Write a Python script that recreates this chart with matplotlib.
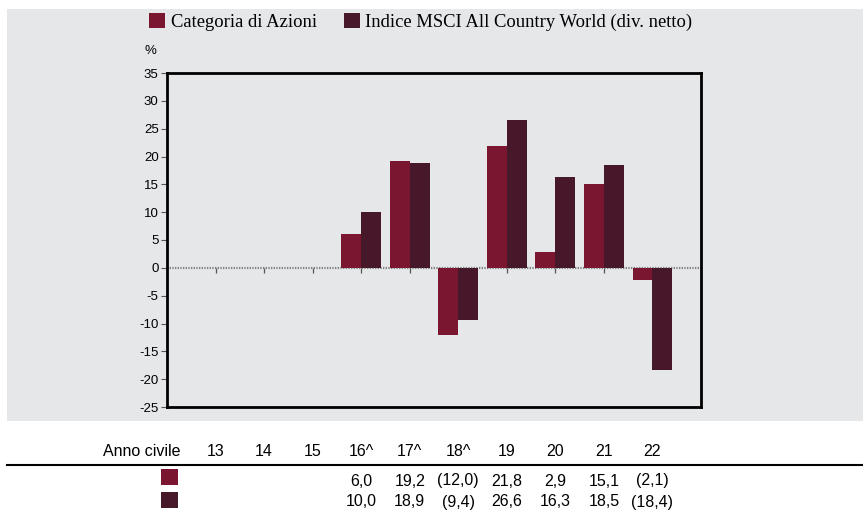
import numpy as np
import matplotlib.pyplot as plt
from matplotlib.patches import Patch, Rectangle
from matplotlib.transforms import blended_transform_factory

# dati
anni = ['13', '14', '15', '16^', '17^', '18^', '19', '20', '21', '22']
categoria = [np.nan, np.nan, np.nan, 6.0, 19.2, -12.0, 21.8, 2.9, 15.1, -2.1]
indice = [np.nan, np.nan, np.nan, 10.0, 18.9, -9.4, 26.6, 16.3, 18.5, -18.4]
serie_nomi = ['Categoria di Azioni', 'Indice MSCI All Country World (div. netto)']
y_ticks = list(range(-25, 40, 5))

COL_CAT = '#7b1631'
COL_IDX = '#461829'
SFONDO = '#e6e7e9'

plt.rcParams['axes.unicode_minus'] = False

W, H = 863, 513
fig = plt.figure(figsize=(W / 100, H / 100), dpi=100)
fig.patch.set_facecolor('white')

# sfondo grigio
fig.patches.append(Rectangle((7 / W, 1 - 421 / H), 1 - 7 / W, (421 - 9) / H,
                             transform=fig.transFigure, facecolor=SFONDO,
                             edgecolor='none', zorder=-5))

ax = fig.add_axes([167 / W, 1 - 407 / H, 534 / W, 334 / H])
ax.set_facecolor(SFONDO)

x = np.arange(len(anni))
bw = 0.41
ax.bar(x - bw, categoria, width=bw, align='edge', color=COL_CAT, zorder=3)
ax.bar(x, indice, width=bw, align='edge', color=COL_IDX, zorder=3)

ax.axhline(0, color='#808080', lw=1.6, ls=(0, (0.6, 0.6)), zorder=2)
ax.vlines(x, -0.9, 0, color='#555555', lw=0.9, zorder=2)

ax.set_xlim(-1, 10)
ax.set_ylim(-25, 35)
ax.set_xticks([])
ax.set_yticks(y_ticks)
ax.tick_params(axis='y', length=4, width=0.8, color='#555555', pad=2,
               labelsize=9.5, labelfontfamily='Liberation Sans')
for s in ax.spines.values():
    s.set_linewidth(2)
    s.set_color('black')

fig.text(150 / W, 1 - 51 / H, '%', ha='center', va='center',
         fontsize=9.5, family='Liberation Sans')

# legenda
handles = [Patch(facecolor=COL_CAT), Patch(facecolor=COL_IDX)]
fig.legend(handles, serie_nomi, loc='upper left', bbox_to_anchor=(149 / W, 1 - 13 / H),
           ncol=2, frameon=False, borderpad=0, borderaxespad=0,
           handlelength=0.88, handleheight=0.85, handletextpad=0.28,
           columnspacing=1.45, prop={'family': 'Liberation Serif', 'size': 13.4})

# tabella sotto
tr = blended_transform_factory(ax.transData, fig.transFigure)
fig.text(180 / W, 1 - 452 / H, 'Anno civile', ha='right', va='center',
         fontsize=11.5, family='Liberation Sans')
for i, a in enumerate(anni):
    fig.text(x[i], 1 - 452 / H, a, transform=tr, ha='center', va='center',
             fontsize=11.5, family='Liberation Sans')


def fmt(v):
    if np.isnan(v):
        return ''
    s = f'{abs(v):.1f}'.replace('.', ',')
    return f'({s})' if v < 0 else s


for riga, (vals, col) in enumerate([(categoria, COL_CAT), (indice, COL_IDX)]):
    ysq = 1 - (477 + riga * 23) / H
    fig.patches.append(Rectangle((161 / W, ysq - 8 / H), 17 / W, 16 / H,
                                 transform=fig.transFigure, facecolor=col,
                                 edgecolor='none'))
    ytx = 1 - (481 + riga * 21) / H
    for i, v in enumerate(vals):
        fig.text(x[i], ytx, fmt(v), transform=tr, ha='center', va='center',
                 fontsize=11.5, family='Liberation Sans')

fig.add_artist(plt.Line2D([7 / W, 1], [1 - 465 / H, 1 - 465 / H],
                          transform=fig.transFigure, color='black', lw=1.5))

fig.savefig('out.png', dpi=100)
